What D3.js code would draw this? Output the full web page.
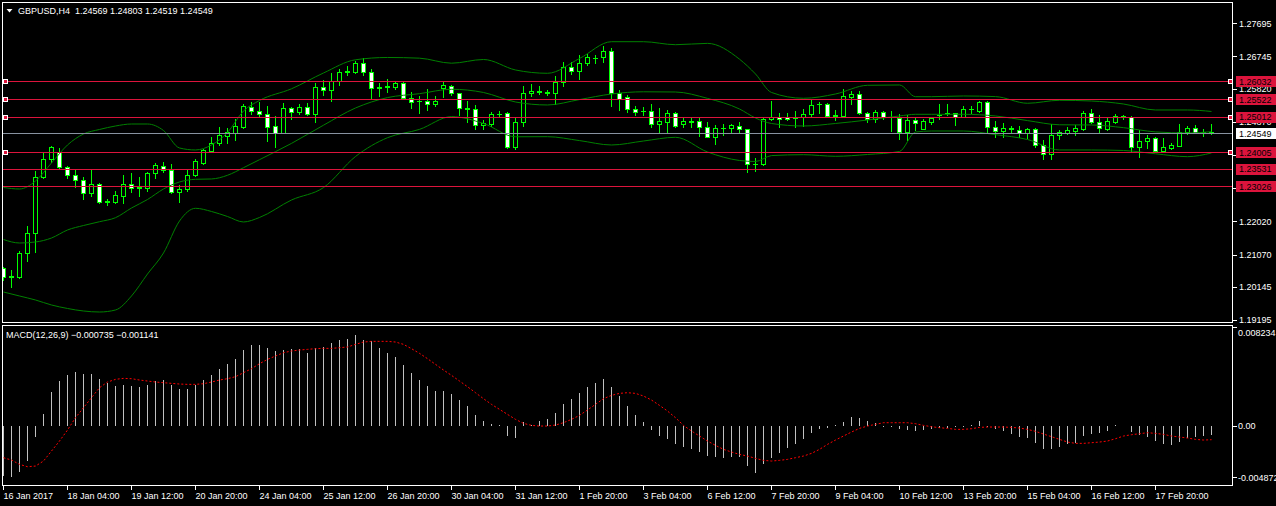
<!DOCTYPE html>
<html>
<head>
<meta charset="utf-8">
<title>GBPUSD,H4</title>
<script src="https://d3js.org/d3.v7.min.js"></script>
<style>
  body { margin:0; background:#000; }
  svg { display:block; }
  text { font-family:"Liberation Sans", Arial, sans-serif; font-size:9px; fill:#fff; }
</style>
</head>
<body>
<svg id="chart" width="1276" height="506"></svg>
<script>
"use strict";

// H4 bars, 16 Jan 2017 20:00 ... 20 Feb 2017
const opens = [
  1.20676,1.20418,1.20436,1.21106,1.21679,1.23301,1.23799,1.24017,1.23587,1.23341,
  1.23206,1.22825,1.23083,1.22584,1.22584,1.22756,1.23083,1.22985,1.22985,1.23398,
  1.23616,1.23493,1.22871,1.22940,1.23349,1.23702,1.24046,1.24258,1.24467,1.24561,
  1.24733,1.25306,1.25183,1.25088,1.24753,1.24561,1.25260,1.25163,1.25289,1.25097,
  1.25862,1.25785,1.26051,1.26300,1.26292,1.26550,1.26309,1.25850,1.25879,1.25879,
  1.25977,1.25547,1.25455,1.25469,1.25375,1.25850,1.25908,1.25690,1.25260,1.25232,
  1.24782,1.24810,1.25097,1.25117,1.24143,1.24859,1.25690,1.25736,1.25707,1.25690,
  1.26022,1.26452,1.26337,1.26550,1.26693,1.26721,1.26910,1.25707,1.25575,1.25240,
  1.25183,1.25183,1.24810,1.24876,1.25117,1.24810,1.24876,1.24896,1.24733,1.24447,
  1.24687,1.24687,1.24762,1.24659,1.23664,1.23656,1.24945,1.25020,1.25002,1.24974,
  1.25002,1.25088,1.25383,1.25383,1.25048,1.25040,1.25593,1.25670,1.25117,1.24945,
  1.25146,1.25002,1.24974,1.24590,1.24925,1.24667,1.24876,1.25060,1.25117,1.25117,
  1.25020,1.25232,1.25191,1.25432,1.24716,1.24618,1.24676,1.24639,1.24544,1.24659,
  1.24209,1.23951,1.24495,1.24561,1.24618,1.24667,1.25117,1.24859,1.24667,1.24876,
  1.25020,1.25002,1.24143,1.24323,1.24401,1.24045,1.24131,1.24189,1.24590,1.24687,
  1.24573,1.24569];
const highs = [
  1.20722,1.20628,1.21172,1.21888,1.23464,1.23971,1.24166,1.24114,1.23607,1.23493,
  1.23283,1.23493,1.23112,1.22653,1.22891,1.23349,1.23398,1.23301,1.23427,1.23685,
  1.23713,1.23664,1.23063,1.23493,1.23808,1.24086,1.24447,1.24733,1.24687,1.24945,
  1.25383,1.25449,1.25449,1.25326,1.25040,1.25404,1.25297,1.25383,1.25404,1.25977,
  1.26071,1.26280,1.26378,1.26472,1.26624,1.26693,1.26378,1.25977,1.26091,1.26022,
  1.26022,1.25719,1.25613,1.25813,1.25613,1.26005,1.25928,1.25707,1.25469,1.25355,
  1.24925,1.25163,1.25191,1.25163,1.24974,1.25899,1.25956,1.25899,1.25785,1.26186,
  1.26578,1.26578,1.26787,1.26816,1.26787,1.27045,1.26979,1.25785,1.25641,1.25326,
  1.25289,1.25383,1.25260,1.25212,1.25163,1.24991,1.24974,1.24974,1.24876,1.24782,
  1.24810,1.24796,1.24876,1.24667,1.23828,1.24974,1.25469,1.25117,1.25134,1.25183,
  1.25240,1.25518,1.25449,1.25421,1.25212,1.25805,1.25756,1.25756,1.25163,1.25212,
  1.25191,1.25183,1.25097,1.25068,1.25002,1.24945,1.25002,1.25383,1.25383,1.25126,
  1.25326,1.25326,1.25478,1.25469,1.24896,1.24831,1.24753,1.24753,1.24704,1.24687,
  1.24352,1.24802,1.24639,1.24733,1.24782,1.25191,1.25232,1.25068,1.25002,1.25097,
  1.25068,1.25040,1.24639,1.24495,1.24429,1.24401,1.24275,1.24802,1.24753,1.24782,
  1.24659,1.24803];
const lows = [
  1.20341,1.20149,1.20398,1.20894,1.21152,1.23264,1.23730,1.23513,1.23255,1.23014,
  1.22653,1.22748,1.22539,1.22490,1.22561,1.22556,1.22871,1.22748,1.22900,1.23272,
  1.23444,1.22825,1.22584,1.22891,1.23320,1.23664,1.24017,1.24209,1.24275,1.24352,
  1.24705,1.25097,1.25002,1.24332,1.24160,1.24544,1.24954,1.25097,1.25077,1.24876,
  1.25641,1.25478,1.25928,1.26214,1.26263,1.26214,1.25527,1.25621,1.25736,1.25813,
  1.25527,1.25277,1.25134,1.25212,1.25335,1.25575,1.25641,1.25068,1.24876,1.24659,
  1.24659,1.24753,1.25002,1.24114,1.24094,1.24762,1.25621,1.25670,1.25641,1.25383,
  1.25899,1.26243,1.26100,1.26501,1.26567,1.26578,1.25326,1.25212,1.25163,1.25068,
  1.25068,1.24733,1.24544,1.24544,1.24716,1.24716,1.24716,1.24467,1.24429,1.24237,
  1.24495,1.24590,1.24590,1.23444,1.23472,1.23636,1.24939,1.24733,1.24925,1.24733,
  1.24753,1.25040,1.25117,1.25002,1.24925,1.25020,1.25383,1.25088,1.24876,1.24876,
  1.24945,1.24618,1.24381,1.24352,1.24639,1.24659,1.24810,1.24945,1.25068,1.24782,
  1.25002,1.25134,1.25146,1.24590,1.24429,1.24429,1.24590,1.24429,1.24401,1.24160,
  1.23808,1.23808,1.24381,1.24524,1.24495,1.24639,1.24831,1.24544,1.24639,1.24831,
  1.24954,1.24017,1.23856,1.24114,1.24028,1.24017,1.24086,1.24180,1.24524,1.24544,
  1.24467,1.24519];
const closes = [
  1.20418,1.20447,1.21106,1.21679,1.23301,1.23799,1.24143,1.23587,1.23349,1.23206,
  1.22825,1.23083,1.22584,1.22596,1.22776,1.23083,1.22968,1.23005,1.23398,1.23636,
  1.23493,1.22871,1.22948,1.23349,1.23759,1.24066,1.24258,1.24495,1.24590,1.24753,
  1.25326,1.25183,1.25097,1.24733,1.24561,1.25260,1.25163,1.25289,1.25097,1.25862,
  1.25785,1.26051,1.26292,1.26315,1.26550,1.26292,1.25850,1.25879,1.25899,1.25977,
  1.25547,1.25449,1.25469,1.25375,1.25469,1.25928,1.25690,1.25260,1.25249,1.24782,
  1.24831,1.25097,1.25088,1.24143,1.24859,1.25690,1.25756,1.25747,1.25719,1.26022,
  1.26452,1.26337,1.26550,1.26721,1.26701,1.26910,1.25707,1.25527,1.25240,1.25163,
  1.25174,1.24810,1.24896,1.25117,1.24762,1.24896,1.24888,1.24733,1.24447,1.24687,
  1.24696,1.24782,1.24659,1.23664,1.23656,1.24945,1.25020,1.24945,1.24954,1.24982,
  1.25097,1.25355,1.25375,1.25040,1.25060,1.25613,1.25670,1.25117,1.24945,1.25146,
  1.25002,1.25011,1.24590,1.24925,1.24831,1.24896,1.24974,1.25068,1.25126,1.25020,
  1.25232,1.25240,1.25432,1.24716,1.24618,1.24687,1.24687,1.24544,1.24659,1.24209,
  1.23951,1.24487,1.24590,1.24639,1.24704,1.25117,1.24859,1.24687,1.24896,1.25040,
  1.25031,1.24143,1.24323,1.24401,1.24045,1.24143,1.24209,1.24590,1.24687,1.24561,
  1.24581,1.24549];

// Bollinger bands at these bar numbers
const bbBars = [0,2,4,6,8,10,12,14,16,18,20,22,24,26,28,30,32,36,40,44,48,52,56,60,64,68,72,76,80,84,88,92,94,96,100,104,108,112,114,116,120,124,128,132,136,140,144,148,151];
const bbUpper = [1.22991,1.22948,1.23177,1.23693,1.24209,1.24524,1.24653,1.24753,1.24810,1.24810,1.24624,1.24123,1.24066,1.24209,1.24567,1.25183,1.25484,1.25819,1.26272,1.26650,1.26716,1.26696,1.26552,1.26658,1.26358,1.26263,1.26687,1.27168,1.27168,1.27082,1.27120,1.26667,1.26243,1.25713,1.25547,1.25670,1.25919,1.25928,1.25593,1.25593,1.25613,1.25595,1.25404,1.25489,1.25469,1.25383,1.25212,1.25212,1.25169];
const bbMiddle = [1.21501,1.21401,1.21430,1.21544,1.21774,1.21902,1.22011,1.22126,1.22404,1.22647,1.22948,1.23149,1.23226,1.23235,1.23341,1.23558,1.23788,1.24255,1.24776,1.25269,1.25567,1.25679,1.25805,1.25713,1.25441,1.25355,1.25510,1.25670,1.25733,1.25727,1.25544,1.25240,1.24982,1.24825,1.24753,1.24825,1.24925,1.25040,1.25088,1.25088,1.25088,1.25040,1.24908,1.24788,1.24782,1.24705,1.24584,1.24553,1.24590];
const bbLower = [1.19997,1.19883,1.19768,1.19625,1.19525,1.19453,1.19424,1.19482,1.19883,1.20513,1.21115,1.22031,1.22395,1.22304,1.22160,1.22003,1.22132,1.22633,1.22988,1.23879,1.24418,1.24656,1.25022,1.24825,1.24444,1.24447,1.24335,1.24209,1.24323,1.24429,1.24008,1.23765,1.23736,1.23905,1.23931,1.23885,1.23937,1.24023,1.24581,1.24610,1.24610,1.24504,1.24366,1.24066,1.24066,1.24051,1.23957,1.23874,1.23980];

// MACD(12,26,9): main (histogram) and signal
const macdMain = [
  -0.004175,-0.004230,-0.003841,-0.002922,-0.000891,0.001002,0.002839,0.003757,0.004258,0.004508,
  0.004369,0.004369,0.003952,0.003562,0.003340,0.003395,0.003340,0.003256,0.003423,0.003757,
  0.003841,0.003423,0.003117,0.003117,0.003395,0.003841,0.004258,0.004787,0.005204,0.005566,
  0.006317,0.006763,0.006763,0.006484,0.006262,0.006317,0.006401,0.006401,0.006123,0.006540,
  0.006624,0.006958,0.007152,0.007291,0.007598,0.007152,0.007097,0.006540,0.006067,0.005761,
  0.005065,0.004453,0.003841,0.003340,0.002922,0.002922,0.002644,0.002171,0.001670,0.000918,
  0.000417,0.000195,0.000056,-0.000835,-0.000974,0.000362,0.000111,0.000417,0.000612,0.001058,
  0.001837,0.002282,0.002783,0.003256,0.003562,0.003952,0.003256,0.002505,0.001670,0.000918,
  0.000334,-0.000334,-0.000835,-0.001058,-0.001475,-0.001725,-0.001892,-0.002143,-0.002505,-0.002560,
  -0.002644,-0.002560,-0.002560,-0.003340,-0.003896,-0.003200,-0.002644,-0.002226,-0.001809,-0.001475,
  -0.001113,-0.000612,-0.000223,-0.000167,0.000056,0.000334,0.000779,0.000668,0.000417,0.000278,
  -0.000083,-0.000056,-0.000223,-0.000334,-0.000417,-0.000334,-0.000278,-0.000195,-0.000139,-0.000056,
  -0.000056,0.000111,0.000417,-0.000056,-0.000223,-0.000445,-0.000640,-0.000918,-0.000974,-0.001392,
  -0.001892,-0.001892,-0.001725,-0.001531,-0.001447,-0.000835,-0.000640,-0.000557,-0.000417,0.000050,
  0.000000,-0.000501,-0.000751,-0.000918,-0.001252,-0.001475,-0.001558,-0.001308,-0.000974,-0.000918,
  -0.000835,-0.000735];
const macdSignal = [
  -0.002644,-0.002839,-0.003200,-0.003395,-0.003340,-0.002922,-0.002087,-0.001252,-0.000334,0.000696,
  0.001531,0.002366,0.003200,0.003674,0.003896,0.003980,0.003952,0.003841,0.003757,0.003674,
  0.003618,0.003562,0.003507,0.003479,0.003479,0.003534,0.003674,0.003841,0.003952,0.004119,
  0.004453,0.004787,0.005204,0.005566,0.005844,0.006123,0.006262,0.006345,0.006401,0.006457,
  0.006484,0.006484,0.006540,0.006596,0.006818,0.007013,0.007069,0.007069,0.007069,0.007013,
  0.006818,0.006457,0.006067,0.005622,0.005149,0.004675,0.004230,0.003757,0.003284,0.002783,
  0.002282,0.001809,0.001392,0.000974,0.000557,0.000223,0.000056,0.000000,0.000000,0.000083,
  0.000278,0.000557,0.000891,0.001336,0.001809,0.002282,0.002560,0.002727,0.002783,0.002727,
  0.002505,0.002171,0.001725,0.001252,0.000696,0.000056,-0.000417,-0.000835,-0.001252,-0.001614,
  -0.001948,-0.002171,-0.002366,-0.002505,-0.002700,-0.002866,-0.002922,-0.002866,-0.002783,-0.002644,
  -0.002505,-0.002282,-0.001948,-0.001531,-0.001169,-0.000835,-0.000501,-0.000195,0.000000,0.000139,
  0.000278,0.000278,0.000278,0.000278,0.000195,0.000056,-0.000056,-0.000139,-0.000195,-0.000278,
  -0.000278,-0.000223,-0.000111,-0.000083,-0.000083,-0.000083,-0.000111,-0.000167,-0.000278,-0.000445,
  -0.000668,-0.000891,-0.001113,-0.001336,-0.001447,-0.001447,-0.001392,-0.001336,-0.001252,-0.001058,
  -0.000835,-0.000724,-0.000640,-0.000557,-0.000612,-0.000696,-0.000835,-0.000918,-0.001002,-0.001113,
  -0.001169,-0.001141];

const priceTicks = [1.27695,1.26745,1.25820,1.24870,1.23920,1.22970,1.22020,1.21070,1.20145,1.19195];
const priceRange = [1.19195, 1.27695];
const macdRange = [-0.004872, 0.008234];
const timeLabels = ["16 Jan 2017","18 Jan 04:00","19 Jan 12:00","20 Jan 20:00","24 Jan 04:00",
  "25 Jan 12:00","26 Jan 20:00","30 Jan 04:00","31 Jan 12:00","1 Feb 20:00","3 Feb 04:00",
  "6 Feb 12:00","7 Feb 20:00","9 Feb 04:00","10 Feb 12:00","13 Feb 20:00","15 Feb 04:00",
  "16 Feb 12:00","17 Feb 20:00"];
const levelPrices = [1.26032, 1.25522, 1.25012, 1.24005, 1.23531, 1.23026];
const levelSelected = [true, true, true, true, false, false];
const bidPrice = 1.24549;

const LIME = "#00ff00", BAND = "#008000", LEVEL = "#dc143c", HIST = "#c0c0c0";
const f5 = d3.format(".5f");

const svg = d3.select("#chart");
svg.append("rect").attr("width", 1276).attr("height", 506).attr("fill", "#000");

const x = d3.scaleLinear().domain([0, closes.length - 1]).range([3, 3 + 8 * (closes.length - 1)]);
const y = d3.scaleLinear().domain(priceRange).range([320, 23.3]);
const yM = d3.scaleLinear().domain(macdRange).range([484.4, 327.4]);
const px = i => Math.round(x(i)) + 0.5;
const py = v => Math.round(y(v)) + 0.5;

const defs = svg.append("defs");
defs.append("clipPath").attr("id", "clipMain")
  .append("rect").attr("x", 3).attr("y", 3).attr("width", 1229).attr("height", 319);
defs.append("clipPath").attr("id", "clipMacd")
  .append("rect").attr("x", 3).attr("y", 326).attr("width", 1229).attr("height", 159);

// ---- price window
const main = svg.append("g").attr("clip-path", "url(#clipMain)");

const candles = closes.map((c, i) => ({ i, o: opens[i], h: highs[i], l: lows[i], c }));
const bodyH = d => Math.abs(Math.round(y(d.o)) - Math.round(y(d.c)));

const gC = main.append("g").attr("shape-rendering", "crispEdges");
gC.selectAll("line.wick").data(candles).join("line").attr("class", "wick")
  .attr("x1", d => px(d.i)).attr("x2", d => px(d.i))
  .attr("y1", d => Math.round(y(d.h))).attr("y2", d => Math.round(y(d.l)) + 1)
  .attr("stroke", LIME);
gC.selectAll("rect.body").data(candles.filter(d => bodyH(d) >= 1)).join("rect").attr("class", "body")
  .attr("x", d => px(d.i) - 2).attr("width", 4)
  .attr("y", d => Math.round(Math.min(y(d.o), y(d.c))) + 0.5)
  .attr("height", d => bodyH(d))
  .attr("fill", d => d.c > d.o ? "#000" : "#fff")
  .attr("stroke", LIME);
gC.selectAll("line.doji").data(candles.filter(d => bodyH(d) < 1)).join("line").attr("class", "doji")
  .attr("x1", d => px(d.i) - 2.5).attr("x2", d => px(d.i) + 2.5)
  .attr("y1", d => py(d.o)).attr("y2", d => py(d.o))
  .attr("stroke", LIME);

// Bollinger bands (drawn over the candles, as the terminal does)
[bbUpper, bbMiddle, bbLower].forEach(band => {
  main.append("path")
    .datum(bbBars.map((b, k) => [b, band[k]]))
    .attr("d", d3.line().x(d => x(d[0]) + 0.5).y(d => y(d[1])).curve(d3.curveMonotoneX))
    .attr("fill", "none").attr("stroke", BAND).attr("stroke-width", 1);
});

// horizontal levels and bid line
const gL = svg.append("g").attr("shape-rendering", "crispEdges");
gL.selectAll("line.level").data(levelPrices).join("line").attr("class", "level")
  .attr("x1", 3).attr("x2", 1232).attr("y1", d => py(d)).attr("y2", d => py(d))
  .attr("stroke", LEVEL);
gL.append("line").attr("x1", 3).attr("x2", 1232).attr("y1", py(bidPrice)).attr("y2", py(bidPrice))
  .attr("stroke", "#8892a0");

// ---- MACD window
const macd = svg.append("g").attr("clip-path", "url(#clipMacd)");
macd.append("g").attr("shape-rendering", "crispEdges")
  .selectAll("line").data(macdMain.map((v, i) => ({ i, v })).filter(d => d.v !== 0)).join("line")
  .attr("x1", d => px(d.i)).attr("x2", d => px(d.i))
  .attr("y1", Math.round(yM(0))).attr("y2", d => Math.round(yM(d.v)))
  .attr("stroke", HIST);
macd.append("path")
  .datum(macdSignal)
  .attr("d", d3.line().x((d, i) => px(i)).y(d => yM(d)))
  .attr("fill", "none").attr("stroke", "#ff0000").attr("stroke-width", 1)
  .attr("stroke-dasharray", "2,2");

// ---- frames
const frames = svg.append("g").attr("shape-rendering", "crispEdges").attr("fill", "none").attr("stroke", "#fff");
frames.append("rect").attr("x", 2.5).attr("y", 2.5).attr("width", 1230).attr("height", 320);
frames.append("rect").attr("x", 2.5).attr("y", 325.5).attr("width", 1230).attr("height", 160);

// ---- price scale
const axisP = svg.append("g");
axisP.selectAll("line").data(priceTicks).join("line")
  .attr("shape-rendering", "crispEdges")
  .attr("x1", 1233).attr("x2", 1237).attr("y1", d => py(d)).attr("y2", d => py(d))
  .attr("stroke", "#fff");
axisP.selectAll("text").data(priceTicks).join("text")
  .attr("x", 1239).attr("y", d => y(d) + 3.4).text(d => f5(d));

// level price boxes
const boxes = svg.append("g");
levelPrices.forEach(p => {
  boxes.append("rect").attr("x", 1236).attr("y", Math.round(y(p)) - 5).attr("width", 40).attr("height", 11)
    .attr("fill", LEVEL).attr("shape-rendering", "crispEdges");
  boxes.append("text").attr("x", 1239).attr("y", y(p) + 3.4).style("fill", "#000").text(f5(p));
});
boxes.append("rect").attr("x", 1236).attr("y", Math.round(y(bidPrice)) - 5).attr("width", 40).attr("height", 11)
  .attr("fill", "#fff").attr("shape-rendering", "crispEdges");
boxes.append("text").attr("x", 1239).attr("y", y(bidPrice) + 3.4).style("fill", "#000").text(f5(bidPrice));

// selection handles of the picked levels
const handles = svg.append("g").attr("shape-rendering", "crispEdges");
levelPrices.forEach((p, k) => {
  if (!levelSelected[k]) return;
  [5, 1230].forEach(hx => {
    handles.append("rect").attr("x", hx - 2).attr("y", Math.round(y(p)) - 2).attr("width", 4).attr("height", 4)
      .attr("fill", LEVEL).attr("stroke", "#fff");
  });
});

// ---- MACD scale
const axisM = svg.append("g");
const macdTicks = [
  { v: macdRange[1], ty: yM(macdRange[1]), label: "0.008234", ly: yM(macdRange[1]) + 8.7 },
  { v: 0, ty: yM(0), label: "0.00", ly: yM(0) + 3.4 },
  { v: macdRange[0], ty: yM(macdRange[0]) - 7, label: "-0.004872", ly: yM(macdRange[0]) - 3 }
];
axisM.selectAll("line").data(macdTicks).join("line")
  .attr("shape-rendering", "crispEdges")
  .attr("x1", 1233).attr("x2", 1237)
  .attr("y1", d => Math.round(d.ty) + 0.5).attr("y2", d => Math.round(d.ty) + 0.5)
  .attr("stroke", "#fff");
axisM.selectAll("text").data(macdTicks).join("text")
  .attr("x", 1238).attr("y", d => d.ly).text(d => d.label);

// ---- time scale
const axisT = svg.append("g");
const tBars = timeLabels.map((t, k) => ({ bar: k * 8, t }));
axisT.selectAll("line").data(tBars).join("line")
  .attr("shape-rendering", "crispEdges")
  .attr("x1", d => px(d.bar)).attr("x2", d => px(d.bar)).attr("y1", 486).attr("y2", 490)
  .attr("stroke", "#fff");
axisT.selectAll("text").data(tBars).join("text")
  .attr("x", d => px(d.bar)).attr("y", 498.5).text(d => d.t);

// ---- window captions
svg.append("path").attr("d", "M6.5,9 L12.5,9 L9.5,12.5 Z").attr("fill", "#fff");
svg.append("text").attr("x", 18).attr("y", 14)
  .text("GBPUSD,H4  " + [opens, highs, lows, closes].map(a => f5(a[a.length - 1])).join(" "))
  .attr("xml:space", "preserve").style("white-space", "pre");
svg.append("text").attr("x", 6).attr("y", 337.5)
  .text("MACD(12,26,9) " + d3.format(".6f")(macdMain[macdMain.length - 1]) + " " + d3.format(".6f")(macdSignal[macdSignal.length - 1]));
</script>
</body>
</html>
